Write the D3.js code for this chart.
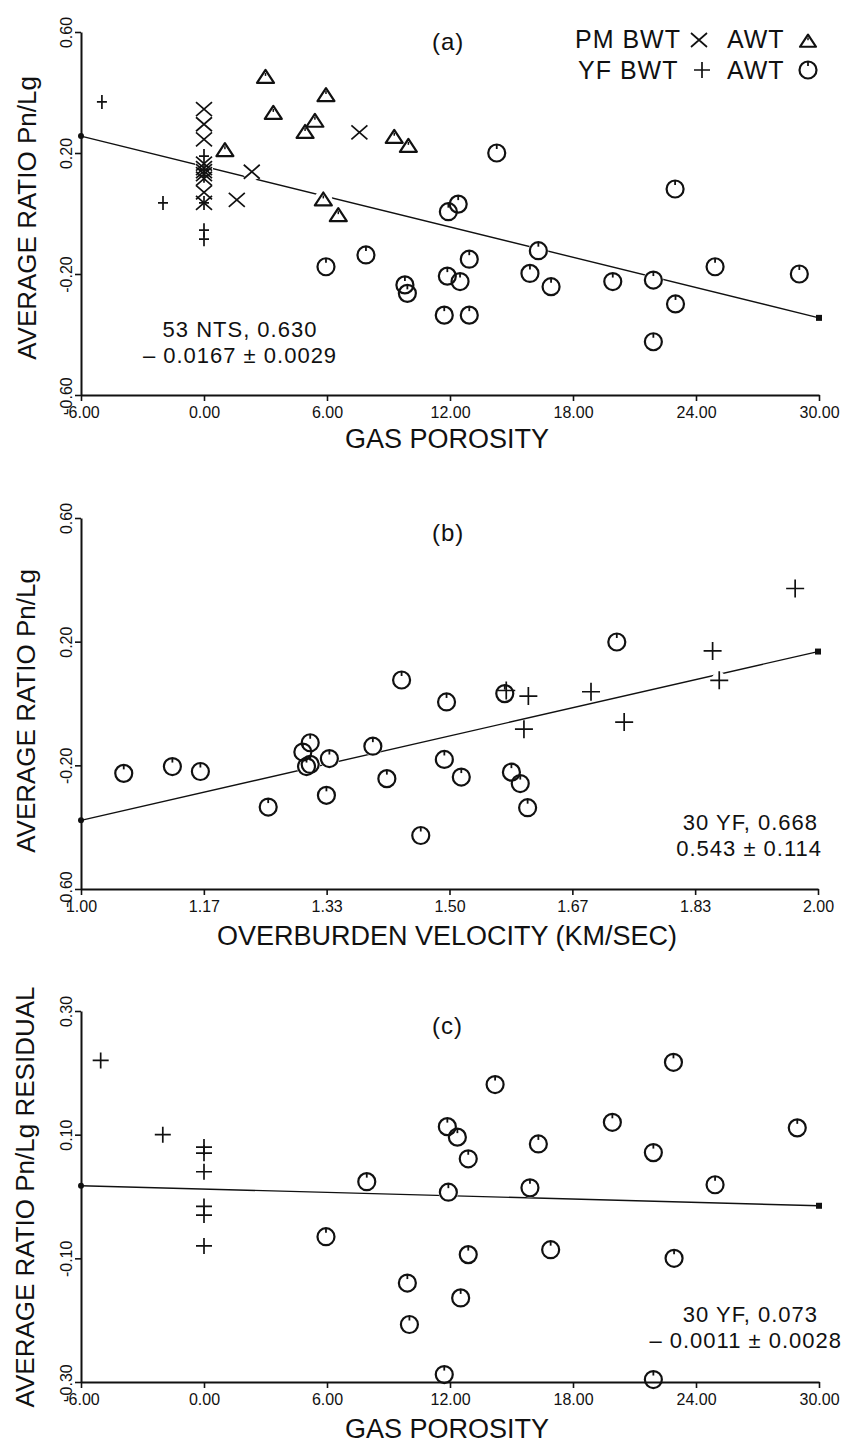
<!DOCTYPE html>
<html>
<head>
<meta charset="utf-8">
<script src="https://cdn.jsdelivr.net/npm/d3@7"></script>
<style>
  body { margin: 0; background: #fff; }
  text { font-family: "Liberation Sans", Arial, sans-serif; fill: #111; }
</style>
</head>
<body>
<div id="chart"></div>
<script>
// ---- DATA -------------------------------------------------------

// 1. Tick values
var porosityTicks = [-6, 0, 6, 12, 18, 24, 30];
var velocityTicks = [1.0, 1.1667, 1.3333, 1.5, 1.6667, 1.8333, 2.0];
var ratioTicks = [-0.6, -0.2, 0.2, 0.6];
var residualTicks = [-0.3, -0.1, 0.1, 0.3];

// 2. Panel (a): ratio vs gas porosity
var aPmBwt = [[7.58, 0.268], [2.33, 0.138], [1.6, 0.045], [0, 0.345], [0, 0.295], [0, 0.245],
  [0, 0.165], [0, 0.15], [0, 0.14], [0, 0.13], [0, 0.115], [0, 0.07], [0, 0.035]];
var aPmAwt = [[3.0, 0.452], [5.95, 0.392], [3.38, 0.333], [5.41, 0.307], [4.93, 0.27],
  [9.28, 0.254], [9.97, 0.224], [1.02, 0.21], [5.82, 0.047], [6.55, -0.005]];
var aYfBwt = [[-4.98, 0.369], [-2.0, 0.035], [0, 0.19], [0, 0.145], [0, 0.125], [0, 0.035],
  [0, -0.055], [0, -0.085]];
var aYfAwt = [[14.28, 0.2], [22.98, 0.081], [12.4, 0.031], [11.92, 0.006], [16.31, -0.123],
  [12.94, -0.151], [11.87, -0.207], [12.49, -0.225], [15.9, -0.198], [16.93, -0.242],
  [19.94, -0.225], [21.92, -0.22], [24.93, -0.176], [29.04, -0.2], [23.0, -0.299],
  [11.72, -0.336], [12.94, -0.336], [21.92, -0.424], [5.95, -0.176], [7.9, -0.137],
  [9.8, -0.236], [9.92, -0.264]];
var aFit = [[-6, 0.256], [30, -0.345]];

// 3. Panel (b): ratio vs overburden velocity
var bYfBwt = [[1.969, 0.372], [1.857, 0.17], [1.866, 0.075], [1.692, 0.038], [1.737, -0.06],
  [1.607, 0.024], [1.601, -0.083], [1.577, 0.042]];
var bYfAwt = [[1.058, -0.226], [1.124, -0.204], [1.162, -0.22], [1.254, -0.335], [1.311, -0.127],
  [1.301, -0.157], [1.306, -0.204], [1.311, -0.197], [1.337, -0.178], [1.333, -0.297],
  [1.396, -0.138], [1.415, -0.243], [1.435, 0.076], [1.461, -0.427], [1.496, 0.005],
  [1.493, -0.181], [1.516, -0.238], [1.727, 0.199], [1.575, 0.032], [1.584, -0.222],
  [1.596, -0.259], [1.606, -0.337]];
var bFit = [[1, -0.378], [2, 0.168]];

// 4. Panel (c): residual vs gas porosity
var cYfBwt = [[-5.04, 0.22], [-2.01, 0.1], [0, 0.08], [0, 0.07], [0, 0.04], [0, -0.016],
  [0, -0.03], [0, -0.08]];
var cYfAwt = [[7.94, 0.024], [5.95, -0.065], [9.92, -0.14], [10.02, -0.207], [22.9, 0.217],
  [14.2, 0.181], [19.92, 0.12], [28.94, 0.111], [11.87, 0.113], [12.36, 0.096], [16.31, 0.085],
  [21.92, 0.071], [12.89, 0.061], [24.93, 0.019], [11.92, 0.007], [15.9, 0.014], [12.89, -0.094],
  [16.91, -0.086], [22.93, -0.1], [12.52, -0.164], [11.72, -0.288], [21.92, -0.296]];
var cFit = [[-6, 0.0175], [30, -0.015]];

// ---- SVG --------------------------------------------------------

var w = 853;
var h = 1444;

var svg = d3.select("#chart")
  .append("svg")
  .attr("width", w)
  .attr("height", h);

function fmt(v) {
  return (v < 0 ? "-" : "") + Math.abs(v).toFixed(2);
}

// ---- MARKERS ----------------------------------------------------

function drawCircle(g, r) {
  g.append("circle").attr("r", r).attr("fill", "none").attr("stroke", "#111").attr("stroke-width", 2.2);
  g.append("line").attr("x1", 0).attr("x2", 0).attr("y1", -r).attr("y2", -r + 4.5)
    .attr("stroke", "#111").attr("stroke-width", 1.8);
}

function drawTriangle(g, s) {
  g.append("path")
    .attr("d", "M" + (-s) + "," + (s * 0.72) + "L" + s + "," + (s * 0.72) + "L0," + (-s * 0.8) + "Z")
    .attr("fill", "none").attr("stroke", "#111").attr("stroke-width", 2.2).attr("stroke-linejoin", "round");
  g.append("line").attr("x1", 0).attr("x2", 0).attr("y1", -s * 0.45).attr("y2", -s * 0.1)
    .attr("stroke", "#111").attr("stroke-width", 1.5);
}

function drawTimes(g, sx, sy) {
  g.append("path")
    .attr("d", "M" + (-sx) + "," + (-sy) + "L" + sx + "," + sy + "M" + (-sx) + "," + sy + "L" + sx + "," + (-sy))
    .attr("stroke", "#111").attr("stroke-width", 1.7).attr("fill", "none");
}

function drawPlus(g, sx, sy) {
  g.append("path")
    .attr("d", "M" + (-sx) + ",0L" + sx + ",0M0," + (-sy) + "L0," + sy)
    .attr("stroke", "#111").attr("stroke-width", 1.7).attr("fill", "none");
}

// ---- PANELS -----------------------------------------------------

function drawPanel(p) {
  var xScale = d3.scaleLinear().domain(p.xDomain).range([81, p.xRight]);
  var yScale = d3.scaleLinear().domain(p.yDomain).range([p.yBottom, p.yTop]);
  var g = svg.append("g");

  // regression line
  g.append("line")
    .attr("x1", xScale(p.fit[0][0])).attr("y1", yScale(p.fit[0][1]))
    .attr("x2", xScale(p.fit[1][0])).attr("y2", yScale(p.fit[1][1]))
    .attr("stroke", "#111").attr("stroke-width", 1.4);

  // white knockouts so the line breaks around the symbols
  var all = [];
  p.series.forEach(function(s) {
    s.data.forEach(function(d) { all.push({ d: d, r: s.knock }); });
  });
  g.selectAll(".knock")
    .data(all)
    .enter()
    .append("circle")
    .attr("cx", function(k) { return xScale(k.d[0]); })
    .attr("cy", function(k) { return yScale(k.d[1]); })
    .attr("r", function(k) { return k.r; })
    .attr("fill", "#fff");

  // end dots of the fit
  g.append("circle")
    .attr("cx", xScale(p.fit[0][0])).attr("cy", yScale(p.fit[0][1]))
    .attr("r", 3).attr("fill", "#111");
  g.append("rect")
    .attr("x", xScale(p.fit[1][0]) - 3).attr("y", yScale(p.fit[1][1]) - 3)
    .attr("width", 6).attr("height", 6).attr("fill", "#111");

  // axes
  var xAxis = d3.axisBottom(xScale)
    .tickValues(p.xTicks)
    .tickSizeInner(6)
    .tickSizeOuter(0)
    .tickPadding(6)
    .tickFormat(fmt);
  var yAxis = d3.axisLeft(yScale)
    .tickValues(p.yTicks)
    .tickSizeInner(6)
    .tickSizeOuter(0)
    .tickFormat(fmt);

  var gx = g.append("g")
    .attr("transform", "translate(0," + p.yBottom + ")")
    .call(xAxis);
  var gy = g.append("g")
    .attr("transform", "translate(81,0)")
    .call(yAxis);

  [gx, gy].forEach(function(a) {
    a.select(".domain").attr("stroke", "#111").attr("stroke-width", 2);
    a.selectAll(".tick line").attr("stroke", "#111").attr("stroke-width", 1.6);
    a.selectAll(".tick text")
      .attr("fill", "#111")
      .attr("font-family", "Liberation Sans, Arial, sans-serif")
      .attr("font-size", "16px");
  });

  gy.selectAll(".tick text")
    .attr("x", 0)
    .attr("dy", 0)
    .attr("text-anchor", "middle")
    .attr("transform", "translate(-9,0) rotate(-90)")
    .attr("fill", function(d) { return (p.fadeTop && d === p.yDomain[1]) ? "#bbb" : "#111"; });

  // symbols
  p.series.forEach(function(s) {
    g.selectAll(".m")
      .data(s.data)
      .enter()
      .append("g")
      .attr("transform", function(d) {
        return "translate(" + xScale(d[0]) + "," + yScale(d[1]) + ")";
      })
      .each(function() { s.draw(d3.select(this)); });
  });

  // titles
  g.append("text")
    .attr("x", 447)
    .attr("y", p.xTitleY)
    .attr("text-anchor", "middle")
    .attr("font-size", "27px")
    .text(p.xTitle);

  g.append("text")
    .attr("transform", "translate(" + p.yTitleX + "," + p.yTitleMid + ") rotate(-90)")
    .attr("text-anchor", "middle")
    .attr("font-size", "26px")
    .text(p.yTitle);

  g.append("text")
    .attr("x", 432)
    .attr("y", p.tagY)
    .attr("font-size", "24px")
    .attr("letter-spacing", "1px")
    .text(p.tag);

  p.notes.forEach(function(n) {
    g.append("text")
      .attr("x", n.x)
      .attr("y", n.y)
      .attr("text-anchor", n.anchor)
      .attr("font-size", "22px")
      .attr("letter-spacing", "1px")
      .text(n.text);
  });
}

// 5. Panel (a)
drawPanel({
  xDomain: [-6, 30], xRight: 819, xTicks: porosityTicks,
  yDomain: [-0.6, 0.6], yBottom: 395, yTop: 32, yTicks: ratioTicks, fadeTop: true,
  fit: aFit,
  series: [
    { data: aYfAwt, knock: 10, draw: function(g) { drawCircle(g, 8.5); } },
    { data: aPmAwt, knock: 9, draw: function(g) { drawTriangle(g, 8.5); } },
    { data: aPmBwt, knock: 9, draw: function(g) { drawTimes(g, 8, 7); } },
    { data: aYfBwt, knock: 6, draw: function(g) { drawPlus(g, 5, 7); } }
  ],
  xTitle: "GAS POROSITY", xTitleY: 448,
  yTitle: "AVERAGE RATIO Pn/Lg", yTitleX: 36, yTitleMid: 218,
  tag: "(a)", tagY: 50,
  notes: [
    { x: 240, y: 337, anchor: "middle", text: "53 NTS, 0.630" },
    { x: 240, y: 363, anchor: "middle", text: "\u2013 0.0167 \u00b1 0.0029" }
  ]
});

// 6. Panel (b)
drawPanel({
  xDomain: [1, 2], xRight: 818, xTicks: velocityTicks,
  yDomain: [-0.6, 0.6], yBottom: 889, yTop: 518, yTicks: ratioTicks,
  fit: bFit,
  series: [
    { data: bYfAwt, knock: 10, draw: function(g) { drawCircle(g, 8.5); } },
    { data: bYfBwt, knock: 8, draw: function(g) { drawPlus(g, 9, 9); } }
  ],
  xTitle: "OVERBURDEN VELOCITY (KM/SEC)", xTitleY: 945,
  yTitle: "AVERAGE RATIO Pn/Lg", yTitleX: 35, yTitleMid: 711,
  tag: "(b)", tagY: 541,
  notes: [
    { x: 818, y: 830, anchor: "end", text: "30 YF, 0.668" },
    { x: 822, y: 856, anchor: "end", text: "0.543 \u00b1 0.114" }
  ]
});

// 7. Panel (c)
drawPanel({
  xDomain: [-6, 30], xRight: 819, xTicks: porosityTicks,
  yDomain: [-0.3, 0.3], yBottom: 1382, yTop: 1011, yTicks: residualTicks,
  fit: cFit,
  series: [
    { data: cYfAwt, knock: 10, draw: function(g) { drawCircle(g, 8.5); } },
    { data: cYfBwt, knock: 8, draw: function(g) { drawPlus(g, 8, 8); } }
  ],
  xTitle: "GAS POROSITY", xTitleY: 1438,
  yTitle: "AVERAGE RATIO Pn/Lg RESIDUAL", yTitleX: 34, yTitleMid: 1197,
  tag: "(c)", tagY: 1034,
  notes: [
    { x: 818, y: 1322, anchor: "end", text: "30 YF, 0.073" },
    { x: 842, y: 1348, anchor: "end", text: "\u2013 0.0011 \u00b1 0.0028" }
  ]
});

// 8. Legend for panel (a)
var legend = svg.append("g").attr("font-size", "25px");
legend.append("text").attr("x", 575).attr("y", 48).attr("letter-spacing", "1px").text("PM BWT");
legend.append("text").attr("x", 727).attr("y", 48).attr("letter-spacing", "1px").text("AWT");
legend.append("text").attr("x", 578).attr("y", 79).attr("letter-spacing", "1px").text("YF BWT");
legend.append("text").attr("x", 727).attr("y", 79).attr("letter-spacing", "1px").text("AWT");
drawTimes(legend.append("g").attr("transform", "translate(699,40)"), 8, 7);
drawTriangle(legend.append("g").attr("transform", "translate(808,41)"), 8);
drawPlus(legend.append("g").attr("transform", "translate(702,70)"), 8, 8);
drawCircle(legend.append("g").attr("transform", "translate(808,70)"), 8.5);
</script>
</body>
</html>
